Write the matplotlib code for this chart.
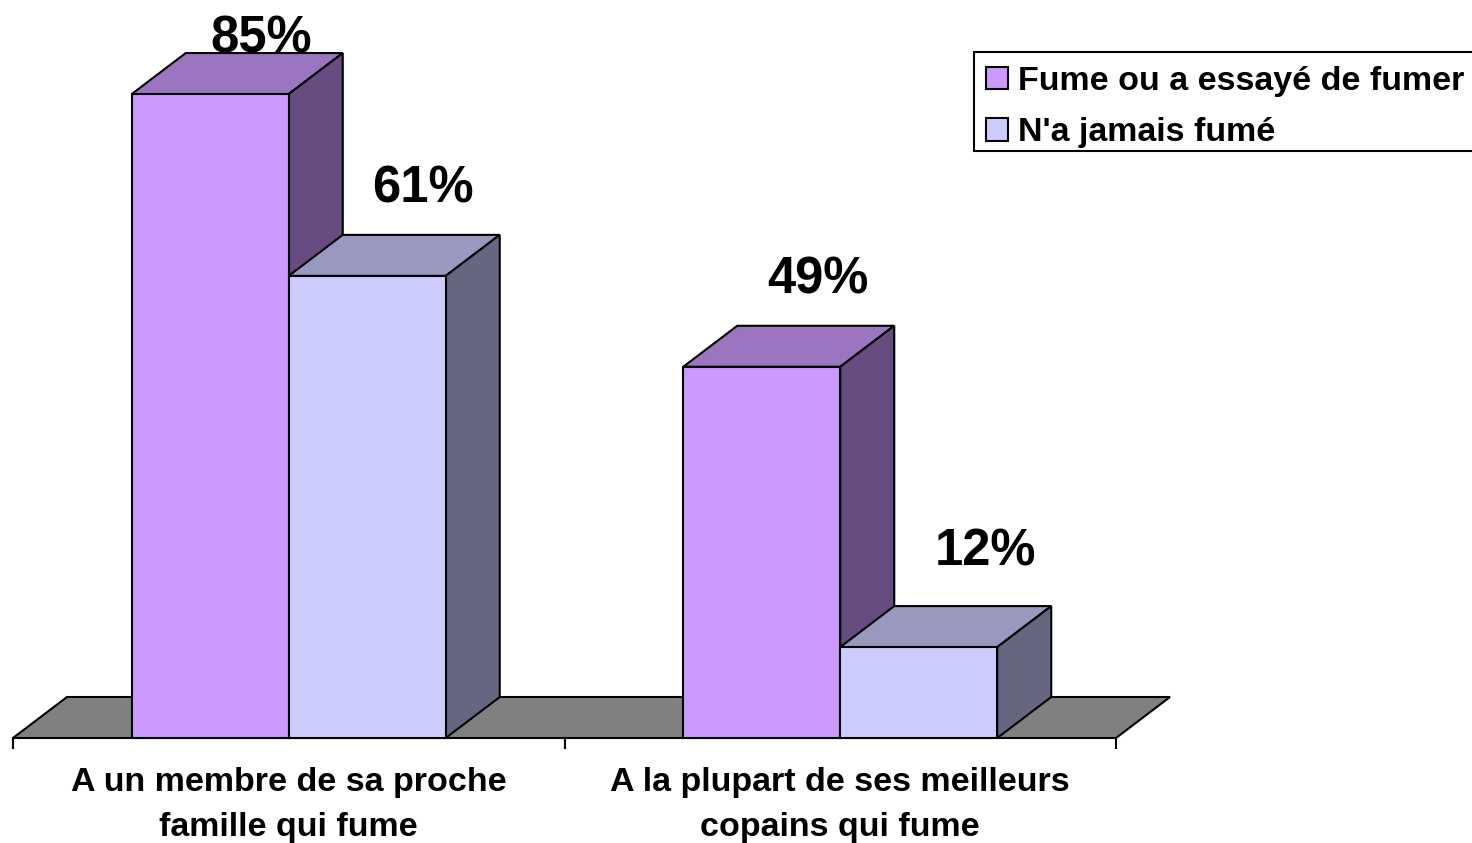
import matplotlib
matplotlib.use('Agg')
import matplotlib.pyplot as plt
from matplotlib.patches import Polygon, Patch, Rectangle

plt.rcParams['font.family'] = ['Liberation Sans', 'DejaVu Sans']
plt.rcParams['font.weight'] = 'bold'

categories = ['A un membre de sa proche\nfamille qui fume', 'A la plupart de ses meilleurs\ncopains qui fume']
series_names = ['Fume ou a essayé de fumer', "N'a jamais fumé"]
fume = [85, 49]
jamais = [61, 12]

W, H = 1472, 843
fig = plt.figure(figsize=(W / 100, H / 100), dpi=100, facecolor='white')
ax = fig.add_axes([13 / W, (H - 738) / H, (1116 - 13) / W, 738 / H])
ax.set_xlim(0, len(categories))
ax.set_ylim(0, 738 / 7.576)
ax.axis('off')

# depth of the fake 3d, in data units
dx = 54 / 551.5
dy = 41 / 7.576
bar_w = 157 / 551.5
lw = 1.5


def box(x0, x1, h, front, top, side):
    ax.add_patch(Polygon([(x0, h), (x1, h), (x1 + dx, h + dy), (x0 + dx, h + dy)], fc=top, ec='black', lw=lw, clip_on=False))
    ax.add_patch(Polygon([(x1, 0), (x1 + dx, dy), (x1 + dx, h + dy), (x1, h)], fc=side, ec='black', lw=lw, clip_on=False))
    ax.add_patch(Polygon([(x0, 0), (x1, 0), (x1, h), (x0, h)], fc=front, ec='black', lw=lw, clip_on=False))


# floor
n = len(categories)
ax.add_patch(Polygon([(0, 0), (n, 0), (n + dx, dy), (dx, dy)], fc='#808080', ec='black', lw=lw, clip_on=False))

for i in range(n):
    c = i + 0.5
    box(c - bar_w, c, fume[i], '#CC99FF', '#9C75C0', '#664C80')
    box(c, c + bar_w, jamais[i], '#CCCCFF', '#9999BF', '#666680')

# ticks
for i in range(n + 1):
    ax.plot([i, i], [0, -10 / 7.576], color='black', lw=lw, clip_on=False)

# value labels, offsets in pixels from top of the bar front
offsets = [[(51, 55), (56, 87)], [(56, 87), (67, 95)]]
for i in range(n):
    c = i + 0.5
    for j, (vals, xc) in enumerate([(fume, c - bar_w / 2), (jamais, c + bar_w / 2)]):
        ox, oy = offsets[i][j]
        ax.annotate(f'{vals[i]}%', (xc, vals[i]), xytext=(ox * 0.72, oy * 0.72), textcoords='offset points',
                    ha='center', va='center', fontsize=36.5, fontweight='bold', annotation_clip=False)

# category labels
for i, lab in enumerate(categories):
    ax.text(i + 0.5, -67 / 7.576, lab, ha='center', va='center', fontsize=24.5, fontweight='bold', linespacing=1.6, clip_on=False)

# legend frame runs off the right edge in the original, so it is drawn apart
fig.add_artist(Rectangle((974 / W, (H - 151) / H), 520 / W, 99 / H, transform=fig.transFigure, fc='white', ec='black', lw=lw))
handles = [Patch(fc='#CC99FF', ec='black', lw=lw), Patch(fc='#CCCCFF', ec='black', lw=lw)]
leg = fig.legend(handles, series_names, loc='upper left', bbox_to_anchor=(986 / W, (H - 66) / H),
                 fontsize=24.5, frameon=False, borderaxespad=0, borderpad=0,
                 handlelength=0.65, handleheight=0.65, handletextpad=0.3, labelspacing=0.6)

fig.savefig('out.png', dpi=100)
